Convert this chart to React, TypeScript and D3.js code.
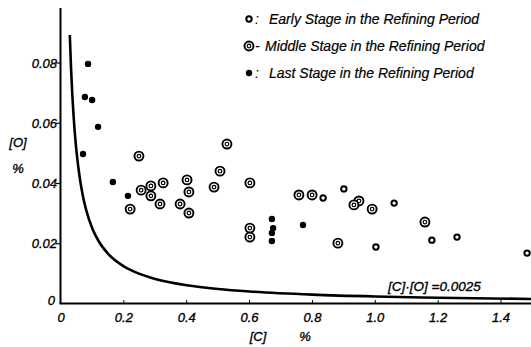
import React, { useEffect, useRef } from "react";
import * as d3 from "d3";

type Pt = [number, number]; // [C %, O %]

// last stage (filled dots)
const lastStage: Pt[] = [
  [0.086, 0.0797], [0.076, 0.0687], [0.099, 0.0677], [0.118, 0.0588],
  [0.07, 0.0498], [0.165, 0.0405], [0.213, 0.0359], [0.671, 0.0282],
  [0.675, 0.0252], [0.671, 0.0236], [0.671, 0.0209], [0.77, 0.0262],
];

// middle stage (double rings)
const middleStage: Pt[] = [
  [0.248, 0.0491], [0.22, 0.0315], [0.255, 0.0378], [0.286, 0.0392],
  [0.286, 0.0359], [0.325, 0.0402], [0.315, 0.0332], [0.379, 0.0332],
  [0.401, 0.0412], [0.407, 0.0372], [0.407, 0.0302], [0.528, 0.0531],
  [0.506, 0.0441], [0.487, 0.0388], [0.601, 0.0402], [0.601, 0.0252],
  [0.601, 0.0222], [0.757, 0.0362], [0.799, 0.0362], [0.948, 0.0342],
  [0.932, 0.0329], [0.99, 0.0315], [0.881, 0.0202], [1.158, 0.0272],
];

// early stage (small open rings)
const earlyStage: Pt[] = [
  [0.834, 0.0352], [0.9, 0.0382], [1.06, 0.0335], [1.18, 0.0212],
  [1.26, 0.0222], [1.002, 0.0189], [1.483, 0.0169],
];

// equilibrium curve [C]*[O] = 0.0025
const product = 0.0025;
const curveC = [
  0.028, 0.032, 0.036, 0.04, 0.045, 0.05, 0.06, 0.07, 0.08, 0.1, 0.12, 0.15,
  0.2, 0.25, 0.3, 0.4, 0.5, 0.6, 0.8, 1.0, 1.2, 1.5,
];

const xTicks = [0, 0.2, 0.4, 0.6, 0.8, 1.0, 1.2, 1.4];
const yTicks = [0, 0.02, 0.04, 0.06, 0.08];

const legendItems = [
  { kind: "early", sep: ":", label: "Early Stage in the Refining Period" },
  { kind: "middle", sep: "-", label: "Middle Stage in the Refining Period" },
  { kind: "last", sep: ":", label: "Last Stage in the Refining Period" },
];

const W = 531;
const H = 347;
const font = "'Liberation Sans', Arial, sans-serif";

const App: React.FC = () => {
  const svgRef = useRef<SVGSVGElement | null>(null);

  useEffect(() => {
    const svg = d3.select(svgRef.current).attr("width", W).attr("height", H);
    svg.selectAll("*").remove();

    const x = d3.scaleLinear().domain([0, 1.4]).range([61, 501]);
    const y = d3.scaleLinear().domain([0, 0.08]).range([304, 63]);

    const drawSymbol = (
      g: d3.Selection<SVGGElement, unknown, null, undefined>,
      kind: string,
      cx: number,
      cy: number
    ) => {
      if (kind === "last") {
        g.append("circle").attr("cx", cx).attr("cy", cy).attr("r", 3.2).attr("fill", "#000");
      } else if (kind === "early") {
        g.append("circle")
          .attr("cx", cx).attr("cy", cy).attr("r", 2.7)
          .attr("fill", "#fff").attr("stroke", "#000").attr("stroke-width", 2);
      } else {
        g.append("circle")
          .attr("cx", cx).attr("cy", cy).attr("r", 4.5)
          .attr("fill", "#fff").attr("stroke", "#000").attr("stroke-width", 1.9);
        g.append("circle")
          .attr("cx", cx).attr("cy", cy).attr("r", 1.8)
          .attr("fill", "none").attr("stroke", "#000").attr("stroke-width", 1.2);
      }
    };

    // axes
    svg.append("line")
      .attr("x1", x(0) - 0.5).attr("x2", x(0) - 0.5)
      .attr("y1", 8).attr("y2", y(0))
      .attr("stroke", "#000").attr("stroke-width", 2);
    svg.append("line")
      .attr("x1", x(0) - 1.5).attr("x2", W)
      .attr("y1", y(0) - 0.5).attr("y2", y(0) - 0.5)
      .attr("stroke", "#000").attr("stroke-width", 2);

    const label = (tx: number, ty: number, s: string, anchor: string, size = 13) =>
      svg.append("text")
        .attr("x", tx).attr("y", ty)
        .attr("text-anchor", anchor)
        .attr("font-family", font).attr("font-style", "italic")
        .attr("font-size", size)
        .attr("stroke", "#000").attr("stroke-width", 0.35)
        .text(s);

    yTicks.forEach((t) => {
      if (t > 0) {
        svg.append("line")
          .attr("x1", x(0) - 5).attr("x2", x(0))
          .attr("y1", y(t)).attr("y2", y(t))
          .attr("stroke", "#000").attr("stroke-width", 1.2);
      }
      label(t === 0 ? 55 : 57, t === 0 ? y(t) + 1 : y(t) + 4.5,
        t === 0 ? "0" : d3.format(".2f")(t), "end");
    });

    xTicks.forEach((t) => {
      if (t > 0) {
        svg.append("line")
          .attr("x1", x(t)).attr("x2", x(t))
          .attr("y1", y(0) - 4).attr("y2", y(0))
          .attr("stroke", "#000").attr("stroke-width", 1);
      }
      label(x(t), 322, t === 0 ? "0" : d3.format(".1f")(t), "middle");
    });

    // axis titles
    label(18, 147, "[O]", "middle");
    label(18, 173, "%", "middle");
    label(258, 341, "[C]", "middle");
    label(305, 341, "%", "middle");

    // curve
    const line = d3.line<number>()
      .x((c) => x(c))
      .y((c) => y(product / c))
      .curve(d3.curveMonotoneX);
    svg.append("path")
      .datum(curveC)
      .attr("fill", "none")
      .attr("stroke", "#000")
      .attr("stroke-width", 2.6)
      .attr("d", line);

    label(388, 291, "[C]·[O] =0.0025", "start", 13.5);

    // points
    const pts = svg.append("g");
    earlyStage.forEach(([c, o]) => drawSymbol(pts, "early", x(c), y(o)));
    middleStage.forEach(([c, o]) => drawSymbol(pts, "middle", x(c), y(o)));
    lastStage.forEach(([c, o]) => drawSymbol(pts, "last", x(c), y(o)));

    // legend
    const lg = svg.append("g");
    legendItems.forEach((d, i) => {
      const cy = 19 + i * 27;
      drawSymbol(lg, d.kind, 249, cy);
      lg.append("text")
        .attr("x", 255).attr("y", cy + 4.5)
        .attr("font-family", font).attr("font-style", "italic")
        .attr("font-size", 14)
        .text(d.sep);
      lg.append("text")
        .attr("x", i === 1 ? 265 : 269).attr("y", cy + 5)
        .attr("font-family", font).attr("font-style", "italic")
        .attr("font-size", 14)
        .attr("stroke", "#000").attr("stroke-width", 0.2)
        .text(d.label);
    });
  }, []);

  return (
    <svg
      ref={svgRef}
      style={{ position: "absolute", left: 0, top: 0, background: "#fff" }}
    />
  );
};

export default App;
